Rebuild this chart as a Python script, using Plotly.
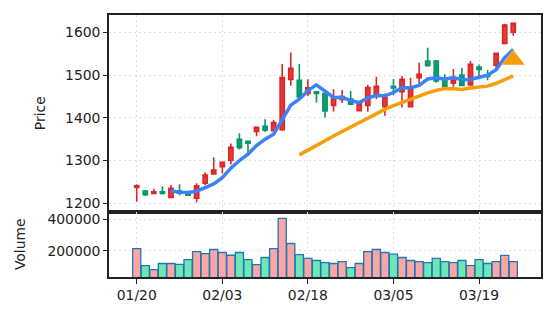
import pandas as pd
import plotly.graph_objects as go

# Trading days (MM/DD)
dates = [
    "01/20", "01/21", "01/22", "01/23", "01/24", "01/27", "01/28", "01/29", "01/30", "01/31",
    "02/03", "02/04", "02/05", "02/06", "02/07", "02/10", "02/11", "02/12", "02/13", "02/14",
    "02/18", "02/19", "02/20", "02/21", "02/24", "02/25", "02/26", "02/27", "02/28", "03/03",
    "03/05", "03/06", "03/07", "03/10", "03/11", "03/12", "03/13", "03/14", "03/17", "03/18",
    "03/19", "03/20", "03/21", "03/24", "03/25",
]

opens = [
    1237, 1229, 1223, 1227, 1214, 1229, 1224, 1212, 1247, 1269,
    1286, 1301, 1350, 1345, 1368, 1380, 1370, 1372, 1490, 1488,
    1457, 1461, 1457, 1429, 1443, 1444, 1417, 1429, 1454, 1426,
    1474, 1461, 1426, 1494, 1533, 1533, 1492, 1481, 1500, 1477,
    1519, 1500, 1523, 1574, 1600,
]
highs = [
    1245, 1231, 1234, 1240, 1243, 1245, 1226, 1247, 1272, 1307,
    1297, 1340, 1364, 1346, 1379, 1397, 1395, 1526, 1553, 1526,
    1490, 1462, 1461, 1467, 1465, 1463, 1434, 1477, 1496, 1457,
    1491, 1498, 1494, 1529, 1564, 1535, 1502, 1514, 1517, 1533,
    1525, 1512, 1552, 1620, 1622,
]
lows = [
    1204, 1217, 1222, 1221, 1213, 1219, 1217, 1202, 1243, 1268,
    1270, 1291, 1326, 1318, 1357, 1367, 1370, 1370, 1475, 1447,
    1451, 1436, 1401, 1415, 1435, 1430, 1416, 1414, 1444, 1405,
    1453, 1424, 1425, 1480, 1521, 1482, 1472, 1473, 1475, 1475,
    1490, 1488, 1512, 1572, 1592,
]
closes = [
    1241, 1220, 1227, 1223, 1235, 1224, 1219, 1241, 1266, 1278,
    1296, 1331, 1330, 1341, 1378, 1371, 1389, 1494, 1516, 1449,
    1470, 1457, 1416, 1447, 1450, 1432, 1433, 1471, 1474, 1448,
    1470, 1490, 1470, 1502, 1522, 1486, 1473, 1488, 1476, 1525,
    1513, 1497, 1551, 1617, 1621,
]
volumes = [
    215000, 107000, 81500, 120000, 120000, 115000, 145000, 196000, 183000, 209000,
    190000, 172500, 190000, 145000, 113000, 158000, 215000, 406000, 247000, 177000,
    152000, 139000, 126000, 120000, 132000, 94000, 120000, 196000, 209000, 190000,
    179000, 158000, 139000, 132000, 126000, 152000, 132000, 126000, 139000, 107000,
    145000, 120000, 132000, 171000, 132000,
]

# Signal marker
signal_dates = ["03/25"]
signal_prices = [1536]

tick_dates = ["01/20", "02/03", "02/18", "03/05", "03/19"]
price_ticks = [1200, 1300, 1400, 1500, 1600]
volume_ticks = [200000, 400000]
volume_tick_text = ["200000", "400000"]

UP = "#dc2626"
DOWN = "#059669"
UP_VOL = "#fca5a5"
DOWN_VOL = "#6ee7b7"

close_s = pd.Series(closes)
ma5 = close_s.rolling(5).mean()
ma20 = close_s.rolling(20).mean()

vol_colors = [UP_VOL if c >= o else DOWN_VOL for o, c in zip(opens, closes)]

fig = go.Figure()

fig.add_trace(go.Candlestick(
    x=dates, open=opens, high=highs, low=lows, close=closes,
    increasing=dict(line=dict(color=UP, width=1.6), fillcolor="#e23b3b"),
    decreasing=dict(line=dict(color=DOWN, width=1.6), fillcolor="#0f9d70"),
    whiskerwidth=0, xaxis="x", yaxis="y", showlegend=False,
))
fig.add_trace(go.Scatter(
    x=dates, y=ma5, mode="lines", line=dict(color="#3b82f6", width=3.5),
    xaxis="x", yaxis="y", showlegend=False,
))
fig.add_trace(go.Scatter(
    x=dates, y=ma20, mode="lines", line=dict(color="#f59e0b", width=3.5),
    xaxis="x", yaxis="y", showlegend=False,
))
fig.add_trace(go.Scatter(
    x=signal_dates, y=signal_prices, mode="markers",
    marker=dict(symbol="triangle-up", size=19, color="#f59e0b",
                line=dict(color="#f7b34a", width=1)),
    xaxis="x", yaxis="y", showlegend=False,
))
fig.add_trace(go.Bar(
    x=dates, y=volumes, marker=dict(color=vol_colors, line=dict(color="#1f77b4", width=1.3)),
    width=0.95, xaxis="x2", yaxis="y2", showlegend=False,
))

font = dict(family="DejaVu Sans", size=13.9, color="#222222")
grid = dict(showgrid=True, gridcolor="#e0e0e0", griddash="2px,3px", gridwidth=1.3)
frame = dict(showline=True, linecolor="#222222", linewidth=1.6, mirror=True, zeroline=False)
xrange = [-3.24, 47.24]

fig.update_layout(
    width=556, height=322,
    margin=dict(l=109, r=15, t=15, b=45),
    paper_bgcolor="white", plot_bgcolor="white",
    font=font,
    bargap=0.05,
    xaxis=dict(domain=[0, 1], anchor="y", type="category", range=xrange,
               tickvals=tick_dates, showticklabels=False, ticks="",
               rangeslider=dict(visible=False), **grid, **frame),
    yaxis=dict(domain=[0.25, 1], anchor="x", range=[1181, 1640.5],
               tickvals=price_ticks, ticks="outside", ticklen=4, tickcolor="#222222",
               title=dict(text="Price", font=font, standoff=16), **grid, **frame),
    xaxis2=dict(domain=[0, 1], anchor="y2", type="category", range=xrange, matches="x",
                tickvals=tick_dates, ticks="outside", ticklen=5, tickcolor="#222222",
                **grid, **frame),
    yaxis2=dict(domain=[0, 0.25], anchor="x2", range=[34400, 450000],
                tickvals=volume_ticks, ticktext=volume_tick_text,
                ticks="outside", ticklen=4, tickcolor="#222222",
                title=dict(text="Volume", font=font, standoff=19), **grid, **frame),
)

fig.write_html("out.html")
